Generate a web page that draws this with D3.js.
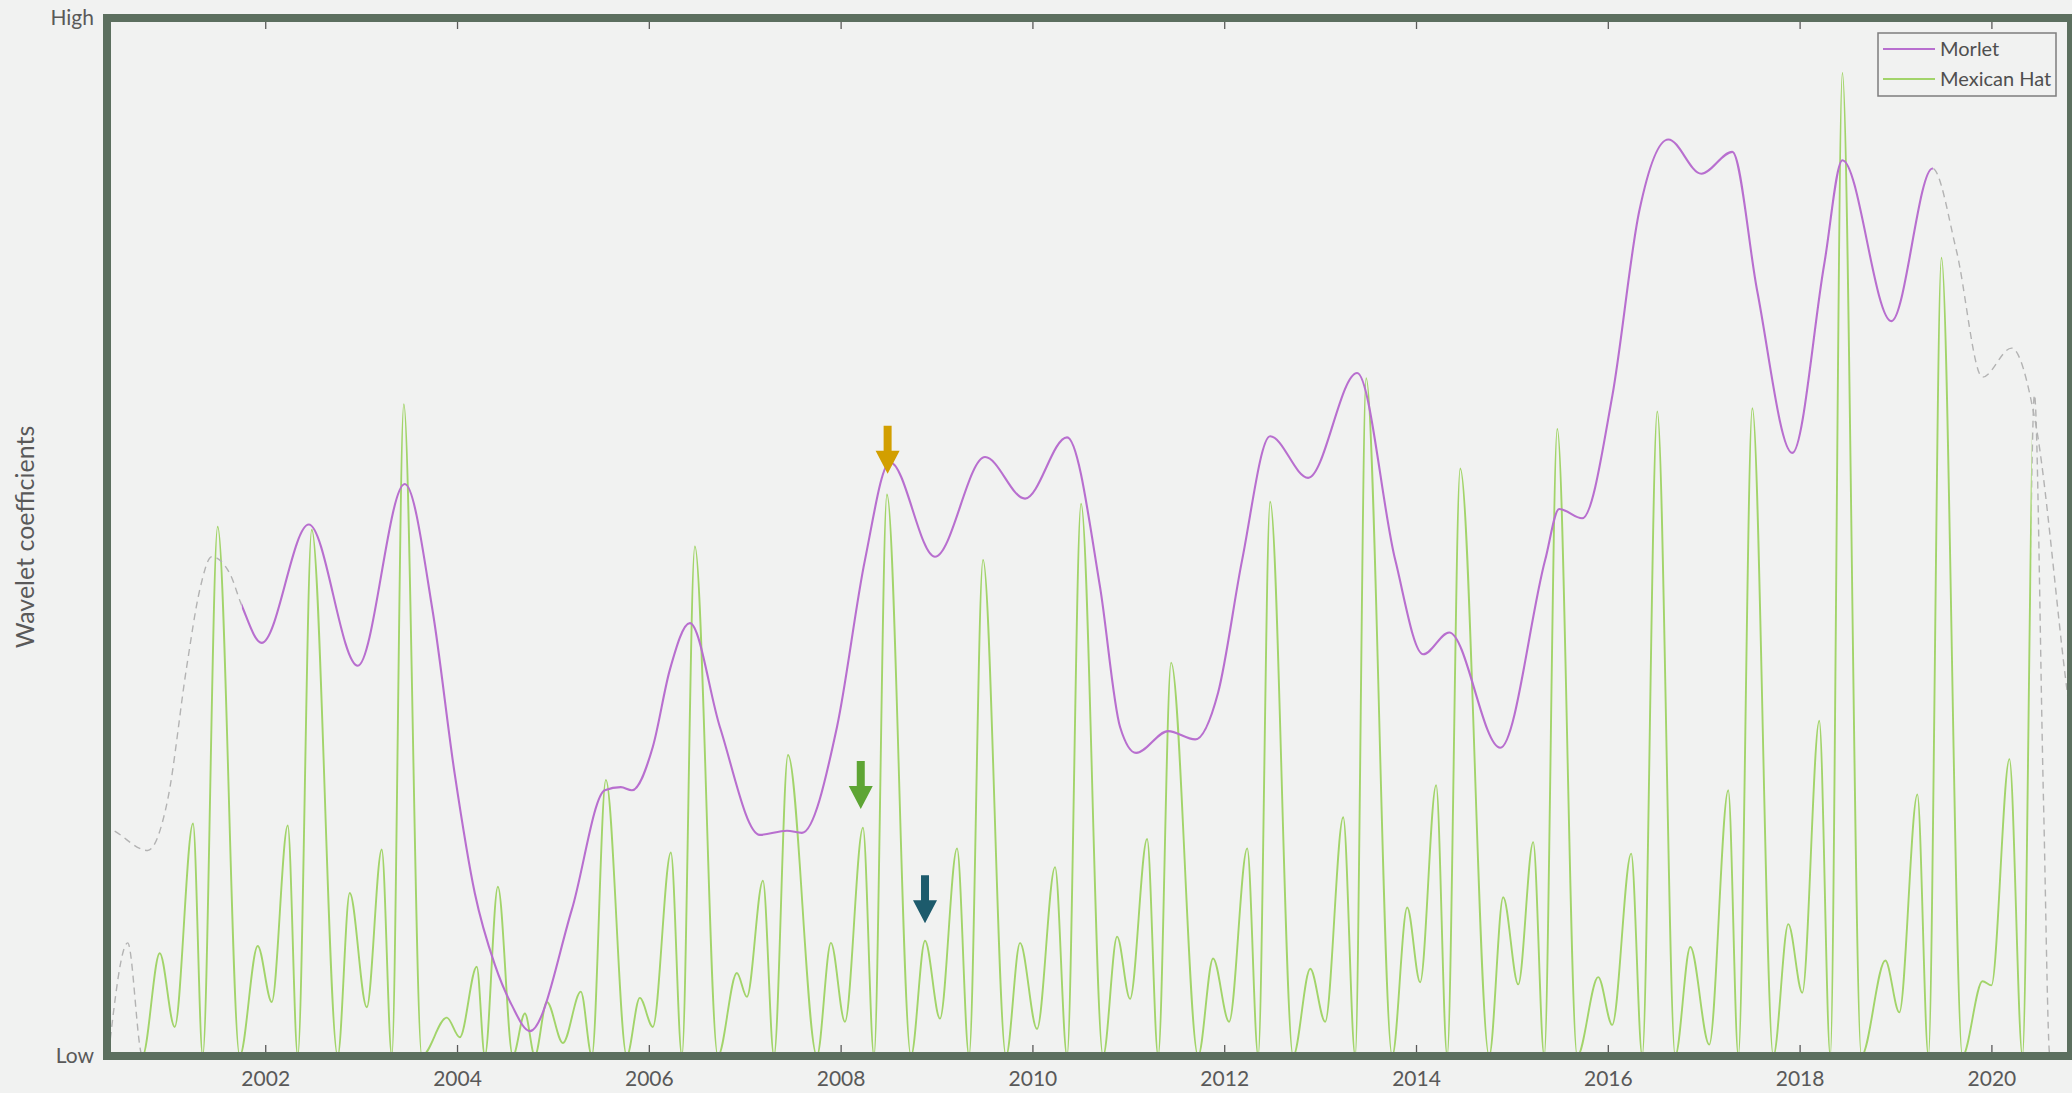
<!DOCTYPE html>
<html>
<head>
<meta charset="utf-8">
<script src="https://cdn.jsdelivr.net/npm/d3@7"></script>
<style>
  html, body { margin: 0; padding: 0; background: #f1f2f1; }
  svg { display: block; }
  text { font-family: Lato, "Noto Sans", sans-serif; }
</style>
</head>
<body>
<svg id="chart" width="2072" height="1093"></svg>
<script>
// ---- data -------------------------------------------------------------
const yearTicks = [2002, 2004, 2006, 2008, 2010, 2012, 2014, 2016, 2018, 2020];
const levelTicks = [0, 100];
const levelLabels = ["Low", "High"];
const seriesNames = ["Morlet", "Mexican Hat"];

// Morlet coefficient envelope (time in decimal years, relative level 0-100)
const morletYears = [
  2000.315, 2000.399, 2000.774, 2000.983, 2001.181, 2001.317, 2001.442, 2001.630,
  2001.755, 2001.963, 2002.454, 2002.965, 2003.455, 2003.747, 2003.977, 2004.185,
  2004.394, 2004.571, 2004.759, 2005.197, 2005.541, 2005.708, 2005.823, 2006.042,
  2006.219, 2006.428, 2006.741, 2007.158, 2007.440, 2007.597, 2007.962, 2008.254,
  2008.515, 2008.984, 2009.506, 2009.923, 2010.361, 2010.705, 2010.914, 2011.081,
  2011.415, 2011.697, 2011.936, 2012.187, 2012.479, 2012.875, 2013.386, 2013.783,
  2014.075, 2014.346, 2014.878, 2015.347, 2015.493, 2015.733, 2016.047, 2016.328,
  2016.631, 2016.975, 2017.298, 2017.558, 2017.924, 2018.257, 2018.446, 2018.957,
  2019.385, 2019.635, 2019.907, 2020.210, 2020.460, 2020.793, 2020.929
];
const morletValues = [
  22.1, 21.8, 19.8, 24.7, 37.5, 44.9, 48.1, 46.5,
  43.4, 39.8, 51.2, 37.6, 55.1, 42.8, 27.1, 15.7,
  8.8, 4.9, 2.4, 14.1, 25.6, 25.9, 25.6, 29.8,
  37.2, 41.7, 31.7, 21.3, 21.7, 21.5, 31.7, 47.8,
  57.2, 48.1, 57.7, 53.7, 59.6, 45.2, 31.7, 29.2,
  31.3, 30.5, 35.0, 47.8, 59.7, 55.7, 65.8, 47.8,
  38.7, 40.8, 29.7, 47.8, 52.7, 51.8, 63.6, 81.4,
  88.3, 85.0, 87.1, 73.7, 58.1, 76.3, 86.3, 70.8,
  85.5, 77.6, 65.4, 68.2, 61.0, 34.9, 25.6
];

// Mexican Hat coefficients (turning points of the oscillation)
const hatYears = [
  2000.370, 2000.566, 2000.720, 2000.900, 2001.056, 2001.247, 2001.348, 2001.504,
  2001.734, 2001.922, 2002.068, 2002.235, 2002.339, 2002.485, 2002.756, 2002.881,
  2003.059, 2003.215, 2003.320, 2003.445, 2003.633, 2003.893, 2004.029, 2004.206,
  2004.290, 2004.426, 2004.582, 2004.708, 2004.811, 2004.937, 2005.104, 2005.291,
  2005.406, 2005.552, 2005.770, 2005.906, 2006.042, 2006.230, 2006.345, 2006.480,
  2006.720, 2006.918, 2007.023, 2007.190, 2007.305, 2007.451, 2007.753, 2007.899,
  2008.045, 2008.233, 2008.348, 2008.483, 2008.734, 2008.880, 2009.036, 2009.214,
  2009.339, 2009.485, 2009.725, 2009.871, 2010.048, 2010.236, 2010.361, 2010.507,
  2010.737, 2010.883, 2011.018, 2011.196, 2011.311, 2011.446, 2011.728, 2011.884,
  2012.051, 2012.240, 2012.354, 2012.479, 2012.719, 2012.897, 2013.053, 2013.241,
  2013.366, 2013.480, 2013.752, 2013.908, 2014.043, 2014.210, 2014.325, 2014.461,
  2014.763, 2014.909, 2015.066, 2015.222, 2015.337, 2015.473, 2015.681, 2015.900,
  2016.046, 2016.244, 2016.359, 2016.516, 2016.703, 2016.860, 2017.058, 2017.256,
  2017.361, 2017.507, 2017.726, 2017.882, 2018.028, 2018.205, 2018.320, 2018.446,
  2018.644, 2018.894, 2019.040, 2019.228, 2019.343, 2019.479, 2019.698, 2019.907,
  2020.000, 2020.188, 2020.324, 2020.449, 2020.543, 2020.610, 2020.850
];
const hatValues = [
  0.5, 10.9, 0, 9.9, 2.8, 22.4, 0, 51.0,
  0, 10.6, 5.2, 22.2, 0, 50.7, 0, 15.7,
  4.7, 19.9, 0, 62.8, 0, 3.7, 1.8, 8.6,
  0, 16.3, 0, 4.1, 0, 5.2, 1.25, 6.2,
  0, 26.6, 0, 5.6, 2.8, 19.6, 0, 49.1,
  0, 8.0, 5.7, 16.9, 0, 29.0, 0, 10.9,
  3.3, 22.0, 0, 54.1, 0, 11.1, 3.6, 20.0,
  0, 47.8, 0, 10.9, 2.6, 18.2, 0, 53.2,
  0, 11.5, 5.5, 20.9, 0, 37.9, 0, 9.4,
  3.3, 20.0, 0, 53.4, 0, 8.4, 3.3, 23.0,
  0, 65.3, 0, 14.3, 7.1, 26.1, 0, 56.6,
  0, 15.3, 6.9, 20.6, 0, 60.4, 0, 7.6,
  3.0, 19.5, 0, 62.1, 0, 10.5, 1.1, 25.6,
  0, 62.4, 0, 12.7, 6.1, 32.3, 0, 94.7,
  0, 9.2, 4.2, 25.2, 0, 76.9, 0, 7.2,
  6.8, 28.6, 0, 63.7, 24.7, 0, 0
];

// Span of each series that is free of edge effects (drawn solid)
const morletReliable = [2001.755, 2019.39];
const hatReliable = [2000.715, 2020.42];

// Marked features: time and level of each arrow tip
const arrowYears = [2008.49, 2008.21, 2008.88];
const arrowValues = [56.1, 23.8, 12.8];

// ---- styling ------------------------------------------------------------
const style = {
  bg: "#f1f2f1",
  frame: "#5c6f5f",
  text: "#595959",
  tick: "#5a5a5a",
  morlet: "#b86fcf",
  hat: "#a2d46a",
  edge: "#b3b3b3",
  arrows: ["#d29f00", "#5ea534", "#1d5b6c"]
};

// ---- layout & scales -----------------------------------------------------
const box = { left: 107, top: 18, right: 2071, bottom: 1056, stroke: 8 };
const inner = {
  left: box.left + box.stroke / 2, right: box.right - box.stroke / 2,
  top: box.top + box.stroke / 2, bottom: box.bottom - box.stroke / 2
};

const x = d3.scaleLinear().domain([2000.35, 2020.83]).range([box.left, box.right]);
const y = d3.scaleLinear().domain([0, 100]).range([box.bottom, box.top]);

const svg = d3.select("#chart");
svg.append("rect").attr("width", 2072).attr("height", 1093).attr("fill", style.bg);

const defs = svg.append("defs");
defs.append("clipPath").attr("id", "plot-area")
  .append("rect")
  .attr("x", inner.left).attr("y", inner.top)
  .attr("width", inner.right - inner.left).attr("height", inner.bottom - inner.top);

function addSpanClips(id, span) {
  const solid = defs.append("clipPath").attr("id", id + "-solid");
  solid.append("rect")
    .attr("x", x(span[0])).attr("y", 0)
    .attr("width", x(span[1]) - x(span[0])).attr("height", 1093);
  const edge = defs.append("clipPath").attr("id", id + "-edge");
  edge.append("rect").attr("x", 0).attr("y", 0)
    .attr("width", x(span[0])).attr("height", 1093);
  edge.append("rect").attr("x", x(span[1])).attr("y", 0)
    .attr("width", 2072 - x(span[1])).attr("height", 1093);
}
addSpanClips("morlet", morletReliable);
addSpanClips("hat", hatReliable);

const line = d3.line()
  .x(d => x(d[0]))
  .y(d => y(d[1]))
  .curve(d3.curveMonotoneX);

const hatData = hatYears.map((t, i) => [t, hatValues[i]]);
const morletData = morletYears.map((t, i) => [t, morletValues[i]]);

const plot = svg.append("g").attr("clip-path", "url(#plot-area)");

function drawSeries(id, data, color, width) {
  plot.append("g").attr("clip-path", `url(#${id}-edge)`)
    .append("path")
    .attr("d", line(data))
    .attr("fill", "none")
    .attr("stroke", style.edge)
    .attr("stroke-width", 1.4)
    .attr("stroke-dasharray", "7 5");
  plot.append("g").attr("clip-path", `url(#${id}-solid)`)
    .append("path")
    .attr("d", line(data))
    .attr("fill", "none")
    .attr("stroke", color)
    .attr("stroke-width", width)
    .attr("stroke-linejoin", "round");
}
drawSeries("hat", hatData, style.hat, 1.9);
drawSeries("morlet", morletData, style.morlet, 2.1);

// ---- arrows ---------------------------------------------------------------
const arrowShape = "M-4,-48 L4,-48 L4,-23 L12,-23 L0,0 L-12,-23 L-4,-23 Z";
svg.append("g").selectAll("path")
  .data(arrowYears.map((t, i) => ({ t, v: arrowValues[i], c: style.arrows[i] })))
  .join("path")
  .attr("d", arrowShape)
  .attr("transform", d => `translate(${x(d.t)},${y(d.v)})`)
  .attr("fill", d => d.c);

// ---- axes -----------------------------------------------------------------
const xAxis = d3.axisBottom(x)
  .tickValues(yearTicks)
  .tickFormat(d3.format("d"))
  .tickSize(-7)
  .tickPadding(19);
const gx = svg.append("g")
  .attr("transform", `translate(0,${inner.bottom})`)
  .call(xAxis);
gx.select(".domain").remove();
gx.selectAll(".tick line").attr("stroke", style.tick).attr("stroke-width", 1.3);
gx.selectAll(".tick text")
  .attr("fill", style.text)
  .style("font-size", "21px");

const xTop = d3.axisTop(x).tickValues(yearTicks).tickFormat("").tickSize(-7);
const gt = svg.append("g")
  .attr("transform", `translate(0,${inner.top})`)
  .call(xTop);
gt.select(".domain").remove();
gt.selectAll(".tick line").attr("stroke", style.tick).attr("stroke-width", 1.3);

const yAxis = d3.axisLeft(y)
  .tickValues(levelTicks)
  .tickFormat((d, i) => levelLabels[i])
  .tickSize(0)
  .tickPadding(13);
const gy = svg.append("g")
  .attr("transform", `translate(${box.left},0)`)
  .call(yAxis);
gy.select(".domain").remove();
gy.selectAll(".tick text")
  .attr("fill", style.text)
  .style("font-size", "21px");

// frame around the plotting area
svg.append("rect")
  .attr("x", box.left).attr("y", box.top)
  .attr("width", box.right - box.left).attr("height", box.bottom - box.top)
  .attr("fill", "none")
  .attr("stroke", style.frame)
  .attr("stroke-width", box.stroke);

// y-axis title
svg.append("text")
  .attr("transform", `translate(34,${(box.top + box.bottom) / 2})rotate(-90)`)
  .attr("text-anchor", "middle")
  .attr("fill", style.text)
  .style("font-size", "25px")
  .text("Wavelet coefficients");

// ---- legend -----------------------------------------------------------------
const legend = svg.append("g").attr("transform", "translate(1878,33)");
legend.append("rect")
  .attr("width", 178).attr("height", 63)
  .attr("fill", style.bg)
  .attr("stroke", "#7d7d7d")
  .attr("stroke-width", 1.5);
const rows = legend.selectAll("g.row")
  .data(seriesNames)
  .join("g")
  .attr("class", "row")
  .attr("transform", (d, i) => `translate(0,${16 + i * 30})`);
rows.append("line")
  .attr("x1", 5).attr("x2", 57)
  .attr("stroke", (d, i) => i === 0 ? style.morlet : style.hat)
  .attr("stroke-width", 2);
rows.append("text")
  .attr("x", 62).attr("dy", "0.35em")
  .attr("fill", "#4f4f4f")
  .style("font-size", "20px")
  .text(d => d);
</script>
</body>
</html>
